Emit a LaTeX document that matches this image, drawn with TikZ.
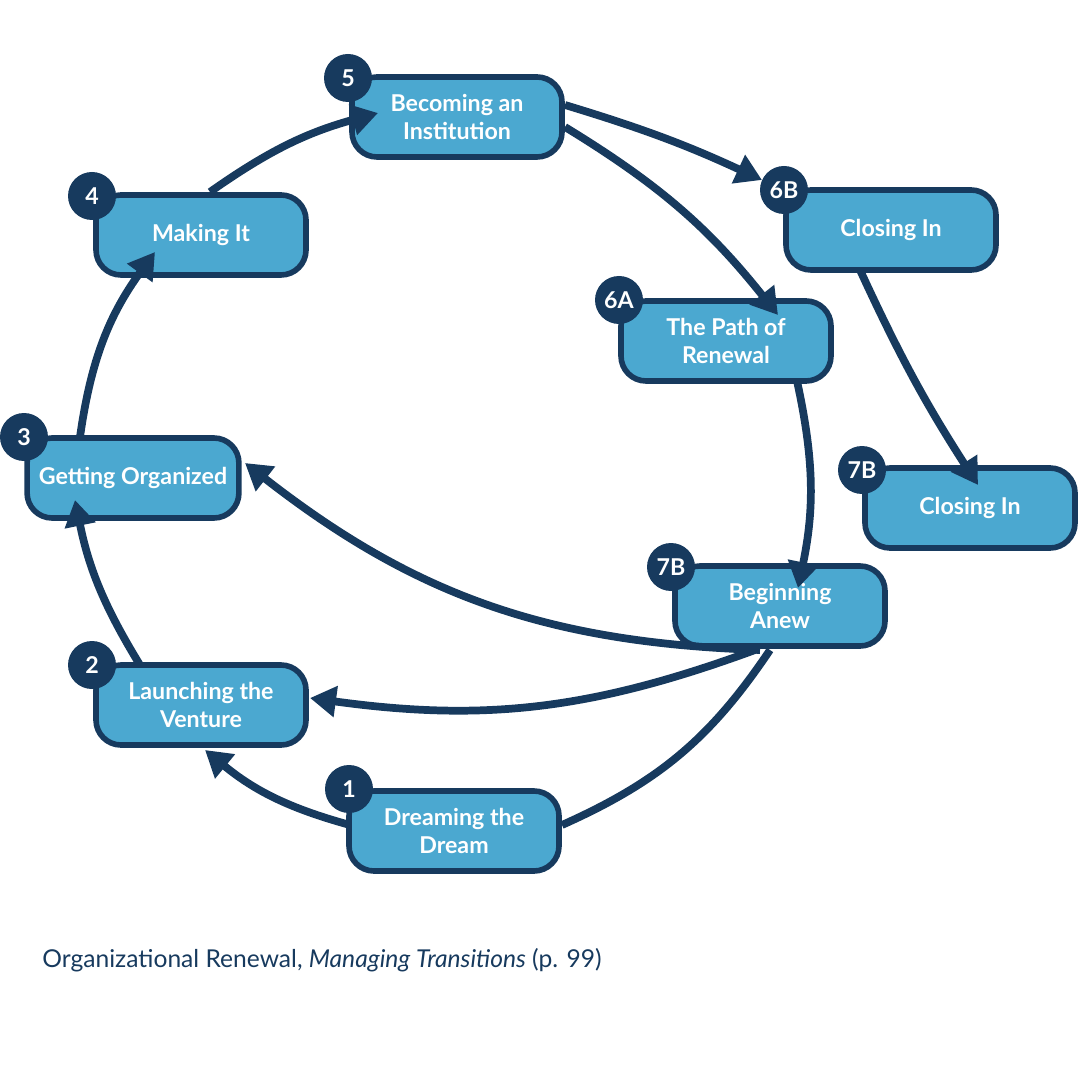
\documentclass[tikz,border=0pt]{standalone}
\usepackage{fontspec}
\setmainfont{Lato}
\usetikzlibrary{arrows.meta}
\definecolor{navy}{HTML}{173A5E}
\definecolor{sky}{HTML}{4BA8D0}
\tikzset{
  stage/.style={draw=navy, fill=sky, line width=1.6pt, rounded corners=2.5mm,
    minimum width=2.1cm, minimum height=0.8cm, text=white, align=center,
    font=\fontsize{6.6}{8}\selectfont\bfseries},
  badge/.style={circle, fill=navy, text=white, minimum size=0.48cm, inner sep=0pt,
    font=\fontsize{6.6}{8}\selectfont\bfseries},
  flow/.style={navy, line width=2.2pt, -{Triangle[length=2.6mm, width=3mm]}},
  link/.style={navy, line width=2.2pt}
}
\begin{document}
\begin{tikzpicture}
  \useasboundingbox (0,0) rectangle (10.8,-10.8);
  % stages
  \node[stage] (s5) at (4.57,-1.17) {Becoming an\\Institution};
  \node[stage] (s4) at (2.01,-2.35) {Making It};
  \node[stage] (s6b) at (8.91,-2.30) {Closing In};
  \node[stage] (s6a) at (7.26,-3.41) {The Path of\\Renewal};
  \node[stage] (s3) at (1.33,-4.78) {Getting Organized};
  \node[stage] (s7r) at (9.70,-5.08) {Closing In};
  \node[stage] (s7b) at (7.80,-6.06) {Beginning\\Anew};
  \node[stage] (s2) at (2.01,-7.05) {Launching the\\Venture};
  \node[stage] (s1) at (4.54,-8.31) {Dreaming the\\Dream};
  % badges
  \node[badge] (b5) at (3.48,-0.78) {5};
  \node[badge] (b4) at (0.92,-1.96) {4};
  \node[badge] (b6b) at (7.84,-1.90) {6B};
  \node[badge] (b6a) at (6.19,-3.00) {6A};
  \node[badge] (b3) at (0.24,-4.37) {3};
  \node[badge] (b7r) at (8.62,-4.70) {7B};
  \node[badge] (b7b) at (6.71,-5.67) {7B};
  \node[badge] (b2) at (0.92,-6.65) {2};
  \node[badge] (b1) at (3.49,-7.89) {1};
  % cycle
  \coordinate (c1) at (3.50,-8.25);
  \coordinate (c2) at (2.05,-7.50);
  \draw[flow] (c1) to[bend left=12] (c2);
  \draw[flow] (1.40,-6.65) to[bend left=10] (0.75,-5.00);
  \draw[flow] (0.80,-4.37) to[bend left=14] (1.55,-2.52);
  \draw[flow] (2.10,-1.92) to[bend left=10] (3.78,-1.13);
  \draw[flow] (5.65,-1.05) to[bend left=4] (7.62,-1.80);
  \draw[flow] (5.65,-1.27) to[bend left=10] (7.78,-3.15);
  \draw[link, -{Triangle[length=2.6mm, width=3mm]}] (8.60,-2.70) to[bend right=4] (9.78,-4.85);
  \draw[flow] (7.97,-3.81) to[bend left=12] (7.98,-5.88);
  % returns
  \draw[flow] (7.60,-6.50) to[bend left=18] (2.45,-4.63);
  \draw[flow] (7.55,-6.50) to[bend left=14] (3.10,-6.98);
  \draw[link] (7.70,-6.50) to[bend left=16] (5.62,-8.25);
  % caption
  \node[anchor=west, text=navy, font=\fontsize{7}{9}\selectfont] (cap) at (0.30,-9.60)
    {Organizational Renewal, \emph{Managing Transitions} (p. 99)};
\end{tikzpicture}
\end{document}
